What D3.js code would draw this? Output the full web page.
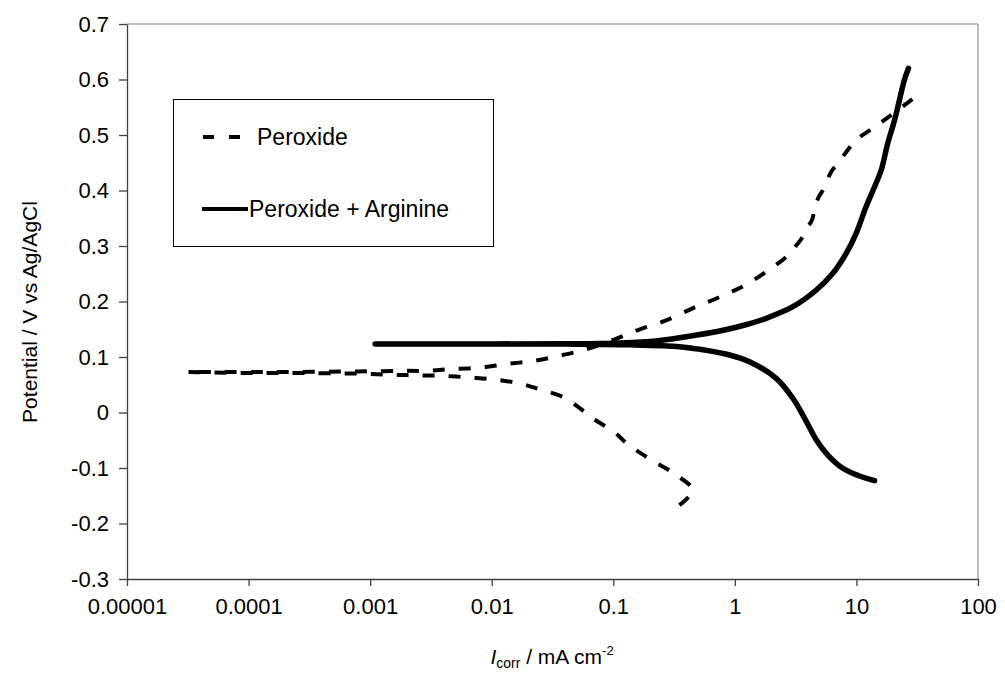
<!DOCTYPE html>
<html>
<head>
<meta charset="utf-8">
<script src="https://cdn.jsdelivr.net/npm/d3@7"></script>
<style>
  body { margin: 0; background: #fff; }
  svg text { font-family: "Liberation Sans", Arial, sans-serif; fill: #000; }
</style>
</head>
<body>
<script>
// tick values / labels
var xTicks = [0.00001, 0.0001, 0.001, 0.01, 0.1, 1, 10, 100];
var xTickLabels = ["0.00001", "0.0001", "0.001", "0.01", "0.1", "1", "10", "100"];
var yTicks = [-0.3, -0.2, -0.1, 0, 0.1, 0.2, 0.3, 0.4, 0.5, 0.6, 0.7];
var yTickLabels = ["-0.3", "-0.2", "-0.1", "0", "0.1", "0.2", "0.3", "0.4", "0.5", "0.6", "0.7"];

var seriesNames = ["Peroxide", "Peroxide + Arginine"];

// Peroxide: current (mA cm-2) and potential (V), in sweep order
var peroxideI = [0.35, 0.45, 0.32, 0.20, 0.131, 0.104, 0.0675, 0.050, 0.0385, 0.0253, 0.018, 0.011,
  0.0066, 0.0040, 0.0024, 0.0015, 0.0008, 0.0003, 0.00012, 0.00005, 0.000031,
  0.00005, 0.0002, 0.0008, 0.0018, 0.0030, 0.0047, 0.0080, 0.0133, 0.0218, 0.0363, 0.060,
  0.099, 0.159, 0.265, 0.448, 0.726, 1.19, 1.90, 2.70, 3.27, 3.63, 3.99, 4.31, 4.61, 4.91,
  5.30, 5.75, 6.21, 7.03, 7.73, 8.49, 9.95, 13.6, 19.3, 32.6];
var peroxideE = [-0.167, -0.140, -0.111, -0.084, -0.057, -0.037, -0.010, 0.012, 0.028, 0.041, 0.051, 0.059,
  0.063, 0.066, 0.067, 0.068, 0.070, 0.071, 0.071, 0.072, 0.073,
  0.073, 0.073, 0.074, 0.075, 0.0753, 0.0784, 0.0807, 0.0874, 0.0928, 0.1023, 0.1139,
  0.1306, 0.1486, 0.1649, 0.1877, 0.2068, 0.2285, 0.2568, 0.282, 0.3036, 0.3168, 0.3348, 0.3468, 0.3739, 0.3888,
  0.4009, 0.4189, 0.4339, 0.449, 0.4609, 0.473, 0.491, 0.5121, 0.536, 0.5733];

// Peroxide + Arginine
var arginineI = [14.1, 10.6, 7.73, 5.82, 4.68, 3.75, 3.00, 2.19, 1.32, 0.906, 0.514, 0.352, 0.137,
  0.04, 0.01, 0.0011, 0.01, 0.04,
  0.0774, 0.200, 0.399, 0.750, 1.21, 1.81, 3.00, 4.68, 6.40, 8.24, 9.95, 12.0, 14.1, 16.0, 18.1, 20.6, 22.6, 24.8, 26.8];
var arginineE = [-0.1229, -0.1144, -0.1005, -0.0766, -0.0495, -0.0105, 0.0256, 0.0616, 0.0915, 0.1036, 0.1139, 0.1186, 0.122,
  0.1232, 0.1234, 0.1234, 0.1236, 0.1238,
  0.1243, 0.1279, 0.1366, 0.1468, 0.1577, 0.1697, 0.1906, 0.2207, 0.2508, 0.2868, 0.3229, 0.3708, 0.4068, 0.4369, 0.485, 0.527, 0.5631, 0.5991, 0.6202];

var W = 1005, H = 677;
var plotL = 127, plotR = 978, plotT = 24, plotB = 579;

var svg = d3.select('body').append('svg')
  .attr('width', W)
  .attr('height', H);

var x = d3.scaleLog().domain([1e-5, 100]).range([plotL, plotR]);
var y = d3.scaleLinear().domain([-0.3, 0.7]).range([plotB, plotT]);

// frame (top and right)
svg.append('path')
  .attr('d', 'M' + plotL + ',' + plotT + 'H' + plotR + 'V' + plotB)
  .attr('fill', 'none')
  .attr('stroke', '#808080')
  .attr('stroke-width', 1);

var xAxis = svg.append('g')
  .attr('transform', 'translate(0,' + plotB + ')')
  .call(d3.axisBottom(x).tickValues(xTicks)
    .tickFormat(function(d, i) { return xTickLabels[i]; })
    .tickSize(7).tickSizeOuter(0).tickPadding(12));

var yAxis = svg.append('g')
  .attr('transform', 'translate(' + plotL + ',0)')
  .call(d3.axisLeft(y).tickValues(yTicks)
    .tickFormat(function(d, i) { return yTickLabels[i]; })
    .tickSize(8).tickSizeOuter(0).tickPadding(10));

[xAxis, yAxis].forEach(function(g) {
  g.selectAll('path, line').attr('stroke', '#404040').attr('stroke-width', 1.3);
  g.selectAll('text').attr('font-size', 22).attr('font-family', '"Liberation Sans", Arial, sans-serif').attr('fill', '#000');
});

var line = d3.line()
  .curve(d3.curveCatmullRom.alpha(0.5))
  .x(function(d) { return x(d[0]); })
  .y(function(d) { return y(d[1]); });

var peroxide = peroxideI.map(function(v, i) { return [v, peroxideE[i]]; });
var arginine = arginineI.map(function(v, i) { return [v, arginineE[i]]; });

svg.append('path')
  .datum(peroxide)
  .attr('d', line)
  .attr('fill', 'none')
  .attr('stroke', '#000')
  .attr('stroke-width', 4)
  .attr('stroke-dasharray', '12,14');

svg.append('path')
  .datum(arginine)
  .attr('d', line)
  .attr('fill', 'none')
  .attr('stroke', '#000')
  .attr('stroke-width', 5.5)
  .attr('stroke-linecap', 'round')
  .attr('stroke-linejoin', 'round');

// legend
var legend = svg.append('g');
legend.append('rect')
  .attr('x', 173.5).attr('y', 99.5)
  .attr('width', 320).attr('height', 147)
  .attr('fill', 'none')
  .attr('stroke', '#000')
  .attr('stroke-width', 1);

legend.append('line')
  .attr('x1', 203).attr('x2', 243).attr('y1', 137).attr('y2', 137)
  .attr('stroke', '#000').attr('stroke-width', 4)
  .attr('stroke-dasharray', '11,15');
legend.append('text')
  .attr('x', 257).attr('y', 145)
  .attr('font-size', 23)
  .text(seriesNames[0]);

legend.append('line')
  .attr('x1', 202).attr('x2', 248).attr('y1', 209).attr('y2', 209)
  .attr('stroke', '#000').attr('stroke-width', 4);
legend.append('text')
  .attr('x', 249).attr('y', 217)
  .attr('font-size', 23)
  .text(seriesNames[1]);

// axis titles
var xt = svg.append('text')
  .attr('x', 552).attr('y', 664)
  .attr('text-anchor', 'middle')
  .attr('font-size', 21);
xt.append('tspan').attr('font-style', 'italic').text('I');
xt.append('tspan').attr('font-size', 14).attr('dy', 4).text('corr');
xt.append('tspan').attr('dy', -4).text(' / mA cm');
xt.append('tspan').attr('font-size', 13).attr('dy', -9).text('-2');

svg.append('text')
  .attr('transform', 'translate(37,312) rotate(-90)')
  .attr('text-anchor', 'middle')
  .attr('font-size', 21)
  .text('Potential / V vs Ag/AgCl');
</script>
</body>
</html>
